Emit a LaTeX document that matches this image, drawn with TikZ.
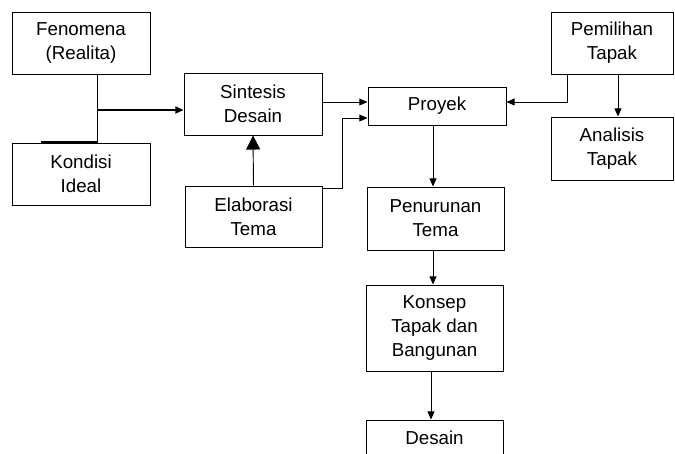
\documentclass[tikz,border=0pt]{standalone}
\usepackage{fontspec}
\setmainfont{Liberation Sans}
\usepackage{tikz}
\usetikzlibrary{arrows.meta}

\begin{document}
\begin{tikzpicture}[x=0.03cm,y=-0.03cm,line width=0.8pt]
		\tikzstyle{stepbox}=[draw,rectangle,align=center,inner sep=0pt,
		font=\fontsize{16}{20.5}\selectfont,minimum width=4.14cm,minimum height=1.86cm]
		\tikzstyle{arr}=[-{Triangle[length=7pt,width=6pt]}]
		\tikzstyle{bigarr}=[-{Triangle[length=12pt,width=12pt]}]
		
		\useasboundingbox (0,0) rectangle (675,454);
		\clip (0,0) rectangle (675,454);
		
		%% Left column
		\node [stepbox] (fenomena) at (81,43) {Fenomena\\(Realita)};
		\node [stepbox] (kondisi) at (81,174) {Kondisi\\Ideal};
		
		%% Middle column
		\node [stepbox] (sintesis) at (253,104) {Sintesis\\Desain};
		\node [stepbox,minimum width=4.11cm,minimum height=1.83cm] (elaborasi) at (253.5,216.5) {Elaborasi\\Tema};
		
		%% Main flow
		\node [stepbox,minimum height=1.14cm] (proyek) at (437,106) {Proyek};
		\node [stepbox,minimum width=4.11cm,minimum height=1.89cm] (penurunan) at (435.5,218.5) {Penurunan\\Tema};
		\node [stepbox,minimum width=4.11cm,minimum height=2.58cm] (konsep) at (434.5,328) {Konsep\\Tapak dan\\Bangunan};
		\node [stepbox,minimum width=4.11cm,minimum height=1.08cm] (desain) at (434.5,438) {Desain};
		
		%% Right column
		\node [stepbox,minimum width=3.66cm] (pemilihan) at (612,43) {Pemilihan\\Tapak};
		\node [stepbox,minimum width=3.66cm,minimum height=1.89cm] (analisis) at (612,148.5) {Analisis\\Tapak};
		
		%% Joints
		\coordinate (jf) at (97,110);
		\coordinate (je) at (342,118);
		\coordinate (jp) at (567,102);
		\coordinate (ja) at (618,102);
		
		%% Connectors
		\draw (fenomena.south -| jf) -- (kondisi.north -| jf);
		\draw [line width=1.8pt] (kondisi.north -| 41,0) -- (kondisi.north -| jf);
		\draw [arr,line width=1.6pt] (jf) -- (jf -| sintesis.west);
		\draw [bigarr] (elaborasi.north) -- (sintesis.south);
		\draw [arr] (sintesis.east |- jp) -- (jp -| proyek.west);
		\draw [arr] ([yshift=-0.09cm]elaborasi.north east) -| (je) -- (je -| proyek.west);
		\draw [arr] (pemilihan.south -| jp) -- (jp) -- (jp -| proyek.east);
		\draw [arr] (pemilihan.south -| ja) -- (analisis.north -| ja);
		\draw [arr] (proyek.south -| 433,0) -- (penurunan.north -| 433,0);
		\draw [arr] (penurunan.south -| 433,0) -- (konsep.north -| 433,0);
		\draw [arr] (konsep.south -| 431,0) -- (desain.north -| 431,0);
		
\end{tikzpicture}
\end{document}
